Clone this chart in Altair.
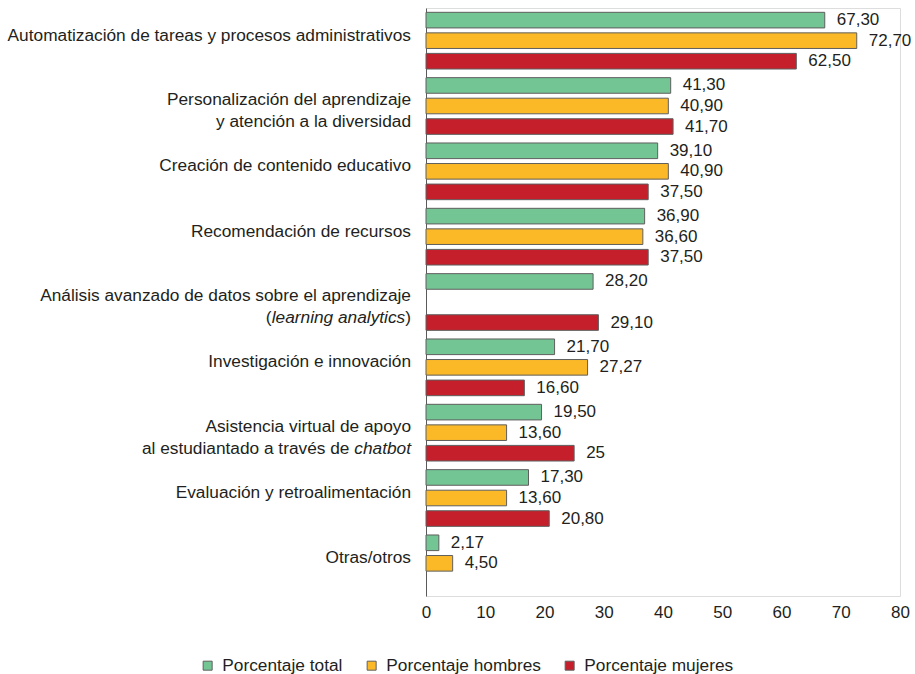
import re
import altair as alt
import pandas as pd

# Category labels: "\n" breaks a line, *...* marks italic text
categories = [
    "Automatización de tareas y procesos administrativos",
    "Personalización del aprendizaje\ny atención a la diversidad",
    "Creación de contenido educativo",
    "Recomendación de recursos",
    "Análisis avanzado de datos sobre el aprendizaje\n(*learning analytics*)",
    "Investigación e innovación",
    "Asistencia virtual de apoyo\nal estudiantado a través de *chatbot*",
    "Evaluación y retroalimentación",
    "Otras/otros",
]

series = ["Porcentaje total", "Porcentaje hombres", "Porcentaje mujeres"]
colors = ["#74c594", "#fbb928", "#c41f2a"]

# Percentages as printed (None = not reported)
pct_total = ["67,30", "41,30", "39,10", "36,90", "28,20", "21,70", "19,50", "17,30", "2,17"]
pct_hombres = ["72,70", "40,90", "40,90", "36,60", None, "27,27", "13,60", "13,60", "4,50"]
pct_mujeres = ["62,50", "41,70", "37,50", "37,50", "29,10", "16,60", "25", "20,80", None]

x_ticks = [0, 10, 20, 30, 40, 50, 60, 70, 80]

FONT = "Liberation Sans"
FONT_SIZE = 17
CAT_FONT_SIZE = 17.3
TEXT_COLOR = "#231f20"
LABEL_GAP = 15

rows = []
for name, col in zip(series, [pct_total, pct_hombres, pct_mujeres]):
    for cat, s in zip(categories, col):
        if s is None:
            continue
        rows.append({"cat": cat, "serie": name, "valor": float(s.replace(",", ".")), "etiqueta": s})
bars_df = pd.DataFrame(rows)

# Arial/Liberation Sans advance widths (1/1000 em) used to place italic fragments
ADV = dict(zip("abcdefghijklmnopqrstuvwxyz",
               [556, 556, 500, 556, 556, 278, 556, 556, 222, 222, 500, 222, 833,
                556, 556, 556, 556, 333, 500, 278, 556, 500, 722, 500, 500, 500]))
ADV.update({" ": 278, "(": 333, ")": 333})


def text_width(s):
    return sum(ADV.get(ch, 556) for ch in s) * CAT_FONT_SIZE / 1000.0


# Split every label into line fragments, right-aligned one after another
frag_rows = []
for cat in categories:
    lines = cat.split("\n")
    for i, line in enumerate(lines):
        dy = 0 if len(lines) == 1 else [-1, 21][i]
        parts = [p for p in re.split(r"(\*[^*]+\*)", line) if p]
        offset = 0.0
        for p in reversed(parts):
            italic = p.startswith("*")
            raw = p.strip("*")
            trail = len(raw) - len(raw.rstrip(" "))
            offset += text_width(" " * trail)
            frag_rows.append({"cat": cat, "texto": raw.strip(" "), "italic": italic,
                              "dx": -(LABEL_GAP + offset), "dy": dy})
            offset += text_width(raw.rstrip(" "))
frag_df = pd.DataFrame(frag_rows)
frag_df["fid"] = range(len(frag_df))

y_enc = alt.Y("cat:N", sort=categories,
              scale=alt.Scale(domain=categories, paddingInner=0, paddingOuter=0),
              axis=alt.Axis(labels=False, ticks=False, title=None, domainColor="#5a5a5a",
                            domainWidth=1, grid=False))
x_enc = alt.X("valor:Q", scale=alt.Scale(domain=[0, 80], nice=False, zero=True),
              axis=alt.Axis(values=x_ticks, domain=False, ticks=False, grid=False, title=None,
                            labelFontSize=FONT_SIZE, labelColor=TEXT_COLOR, labelPadding=8,
                            labelFlush=False, labelFont=FONT))
yoff_enc = alt.YOffset("serie:N", sort=series,
                       scale=alt.Scale(domain=series, paddingInner=0.24, paddingOuter=0.21))

bars = alt.Chart(bars_df).mark_bar(stroke="#5f5f5f", strokeWidth=1).encode(
    y=y_enc,
    x=x_enc,
    yOffset=yoff_enc,
    color=alt.Color("serie:N", sort=series,
                    scale=alt.Scale(domain=series, range=colors),
                    legend=alt.Legend(title=None, orient="none", direction="horizontal",
                                      columns=3, legendX=-227, legendY=649,
                                      symbolType="square", symbolSize=81,
                                      symbolStrokeColor="#5f5f5f", symbolStrokeWidth=1,
                                      labelFontSize=CAT_FONT_SIZE, labelFont=FONT,
                                      labelColor=TEXT_COLOR, labelOffset=6,
                                      columnPadding=20, labelLimit=300, padding=0)),
)

values = alt.Chart(bars_df).mark_text(
    align="left", baseline="middle", dx=12, fontSize=FONT_SIZE, font=FONT, color=TEXT_COLOR
).encode(y=y_enc, x=x_enc, yOffset=yoff_enc, text="etiqueta:N")

label_layers = []
for r in frag_df.itertuples():
    label_layers.append(
        alt.Chart(frag_df).transform_filter(alt.datum.fid == int(r.fid)).mark_text(
            align="right", baseline="alphabetic", dx=float(r.dx), dy=float(r.dy),
            fontSize=CAT_FONT_SIZE, font=FONT, color=TEXT_COLOR,
            fontStyle="italic" if r.italic else "normal",
        ).encode(y=alt.Y("cat:N", sort=categories, scale=alt.Scale(domain=categories)),
                 x=alt.value(0), text="texto:N")
    )

chart = alt.layer(bars, values, *label_layers).properties(
    width=474, height=588,
    autosize=alt.AutoSizeParams(type="none"),
    padding={"left": 426, "top": 8, "right": 15, "bottom": 78},
).configure_view(strokeWidth=0).configure(font=FONT)

chart.save("out.html", embed_options={"renderer": "svg", "actions": False})
